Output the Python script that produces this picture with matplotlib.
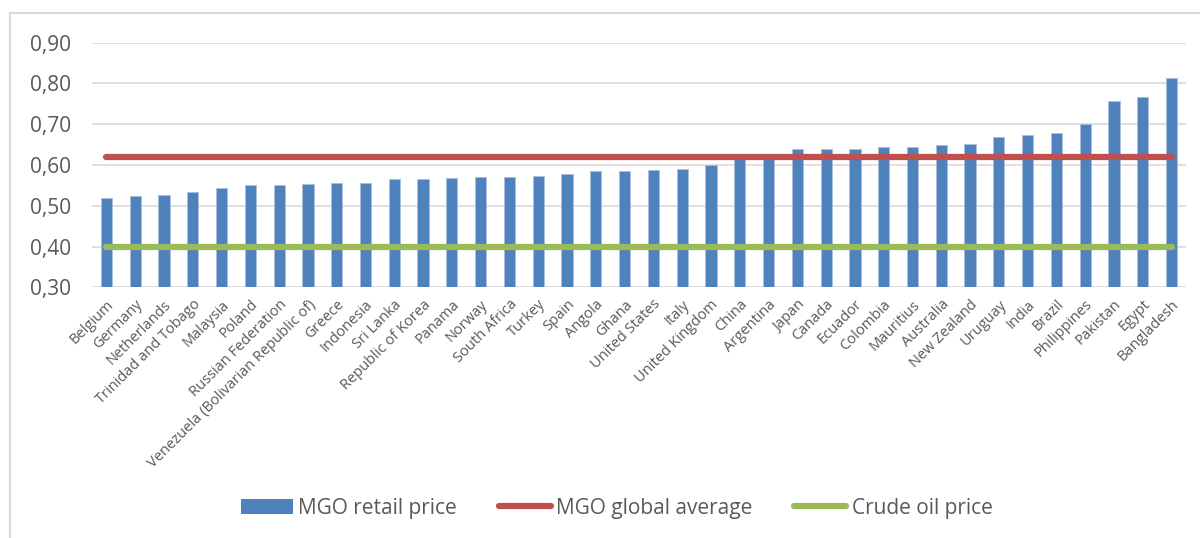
import matplotlib
matplotlib.use("Agg")
import matplotlib.pyplot as plt
from matplotlib.ticker import FuncFormatter
from matplotlib.patches import Patch
from matplotlib.lines import Line2D

countries = ["Belgium", "Germany", "Netherlands", "Trinidad and Tobago", "Malaysia", "Poland",
             "Russian Federation", "Venezuela (Bolivarian Republic of)", "Greece", "Indonesia",
             "Sri Lanka", "Republic of Korea", "Panama", "Norway", "South Africa", "Turkey", "Spain",
             "Angola", "Ghana", "United States", "Italy", "United Kingdom", "China", "Argentina",
             "Japan", "Canada", "Ecuador", "Colombia", "Mauritius", "Australia", "New Zealand",
             "Uruguay", "India", "Brazil", "Philippines", "Pakistan", "Egypt", "Bangladesh"]
retail_price = [0.519, 0.525, 0.527, 0.534, 0.543, 0.550, 0.552, 0.554, 0.556, 0.556,
                0.565, 0.566, 0.567, 0.570, 0.570, 0.574, 0.578, 0.585, 0.585, 0.588,
                0.590, 0.599, 0.615, 0.626, 0.638, 0.638, 0.639, 0.643, 0.645, 0.650,
                0.651, 0.669, 0.674, 0.678, 0.701, 0.757, 0.766, 0.814]
global_average = 0.62
crude_oil = 0.40
yticks = [0.30, 0.40, 0.50, 0.60, 0.70, 0.80, 0.90]

FONT = "Open Sans"
BLUE = "#4F81BD"
RED = "#C0504D"
GREEN = "#9BBB59"
TXT = "#595959"
GRID = "#D9D9D9"

fig = plt.figure(figsize=(12, 5.38), dpi=100)
ax = fig.add_axes([0.0767, 0.466, 0.9116, 0.4547])

x = list(range(len(countries)))
ax.bar(x, [v - 0.30 for v in retail_price], bottom=0.30, width=0.39, color=BLUE,
       edgecolor="#A7C0DE", linewidth=0.6, zorder=3)
ax.plot([x[0], x[-1]], [global_average] * 2, color=RED, lw=4.5, solid_capstyle="round", zorder=4)
ax.plot([x[0], x[-1]], [crude_oil] * 2, color=GREEN, lw=4.5, solid_capstyle="round", zorder=4)

ax.set_xlim(-0.5, len(countries) - 0.5)
ax.set_ylim(0.30, 0.90)
ax.set_yticks(yticks)
ax.yaxis.set_major_formatter(FuncFormatter(lambda v, p: f"{v:.2f}".replace(".", ",")))
ax.grid(axis="y", color=GRID, lw=1.2, zorder=0)
for s in ax.spines.values():
    s.set_visible(False)
ax.tick_params(axis="both", length=0)
ax.tick_params(axis="y", labelsize=15, labelcolor=TXT, pad=15)
for lab in ax.get_yticklabels():
    lab.set_fontfamily(FONT)

ax.set_xticks(x)
ax.set_xticklabels(countries, rotation=45, ha="right", rotation_mode="anchor",
                   fontsize=10.5, color=TXT, family=FONT)
ax.tick_params(axis="x", pad=7)

handles = [Patch(facecolor=BLUE, edgecolor="none"),
           Line2D([], [], color=RED, lw=4.5, solid_capstyle="round"),
           Line2D([], [], color=GREEN, lw=4.5, solid_capstyle="round")]
labels = ["MGO retail price", "MGO global average", "Crude oil price"]
leg = fig.legend(handles, labels, loc="center", bbox_to_anchor=(0.514, 0.055), ncol=3,
                 frameon=False, handlelength=2.5, handleheight=0.75, handletextpad=0.25,
                 columnspacing=2.0, prop={"family": FONT, "size": 15})
for t in leg.get_texts():
    t.set_color(TXT)

# outer chart frame
fig.add_artist(Line2D([0.0083, 0.0083], [0.0, 0.976], color=GRID, lw=1.5, transform=fig.transFigure))
fig.add_artist(Line2D([0.0083, 1.0], [0.976, 0.976], color=GRID, lw=1.5, transform=fig.transFigure))

fig.savefig("out.png", dpi=100)
